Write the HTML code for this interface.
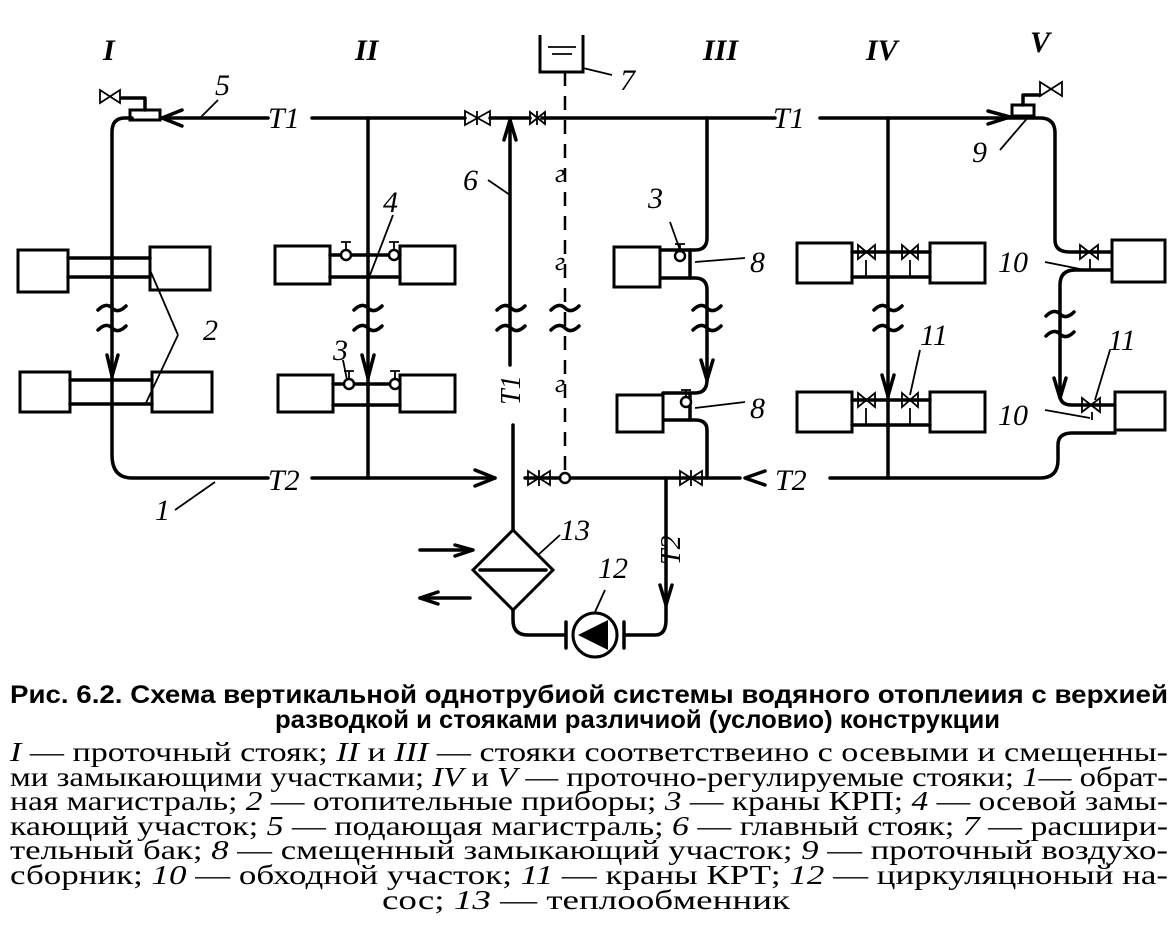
<!DOCTYPE html>
<html><head><meta charset="utf-8"><style>
html,body{margin:0;padding:0;background:#fff}
svg{display:block}
.p{fill:none;stroke:#000;stroke-width:3.5;stroke-linejoin:round;stroke-linecap:round}
.t{fill:none;stroke:#000;stroke-width:1.8}
.b{fill:#fff;stroke:#000;stroke-width:3}
.l{font-family:"Liberation Serif",serif;font-style:italic;font-size:30px}
.cap{font-family:"Liberation Sans","Noto Sans CJK SC",sans-serif;font-size:25px;font-weight:bold}
.txt{font-family:"Liberation Serif","Noto Serif CJK SC",serif;font-size:27px}
</style></head><body>
<svg width="1173" height="933" viewBox="0 0 1173 933" xmlns="http://www.w3.org/2000/svg">
<g class="l" font-size="34" font-weight="bold">
<text x="103" y="60">I</text><text x="355" y="60">II</text><text x="703" y="60">III</text><text x="866" y="60">IV</text><text x="1030" y="52">V</text>
</g>
<path class="p" d="M160 118 H268 M312 118 H465 M490 118 H530 M542 118 H775 M820 118 H1040 Q1055 118 1055 133 V240 Q1055 252 1070 252 H1112"/>
<path class="p" d="M182 110 L162 118 L182 126"/>
<path class="p" d="M988 111 L1010 117 L988 124"/>
<rect class="b" x="130" y="110" width="30" height="10"/>
<path class="p" d="M145 110 V98 H122"/>
<path class="t" stroke-width="2.5" d="M100 90 L120 103 V90 L100 103 Z"/>
<path class="p" d="M132 118 H125 Q112 118 112 132 V455 Q112 478 132 478 H268 M312 478 H495"/>
<path class="p" d="M107 355 L112 376 L118 355"/>
<path class="p" d="M475 470 L495 478 L475 486"/>
<rect class="b" x="18" y="250" width="50" height="42"/><rect class="b" x="150" y="247" width="60" height="43"/>
<path class="p" d="M68 258 H150 M68 277 H150"/>
<rect class="b" x="20" y="372" width="50" height="40"/><rect class="b" x="152" y="372" width="60" height="40"/>
<path class="p" d="M70 380 H152 M70 404 H152"/>
<path class="p" d="M368 118 V478"/>
<path class="p" d="M362 355 L368 378 L374 355"/>
<rect class="b" x="275" y="246" width="55" height="38"/><rect class="b" x="400" y="246" width="55" height="38"/>
<path class="p" d="M330 255 H400 M330 277 H400"/>
<rect class="b" x="278" y="375" width="55" height="37"/><rect class="b" x="400" y="375" width="55" height="37"/>
<path class="p" d="M333 384 H400 M333 405 H400"/>
<g fill="#fff" stroke="#000" stroke-width="2.5">
<circle cx="346" cy="255" r="5"/><circle cx="394" cy="255" r="5"/><circle cx="349" cy="384" r="5"/><circle cx="395" cy="384" r="5"/>
</g>
<path class="t" stroke-width="2.5" d="M346 250 V242 M341 242 H351 M394 250 V242 M389 242 H399 M349 379 V371 M344 371 H354 M395 379 V371 M390 371 H400"/>
<path class="t" stroke-width="2.5" d="M465 111 L490 125 V111 L465 125 Z M477 111 V125"/>
<path class="t" stroke-width="2.5" d="M530 112 L545 124 V112 L530 124 Z M537 111 V125"/>
<path class="p" d="M510 118 V365 M513 425 V620 Q513 635 528 635 H565"/>
<path class="p" d="M504 140 L510 120 L516 140"/>
<path class="b" d="M540 35 V72 H583 V35"/>
<path class="t" stroke-width="2" d="M548 47 H576 M552 54 H572"/>
<path stroke="#000" stroke-width="2.5" stroke-dasharray="14,10" d="M565 72 V473"/>
<path class="t" d="M583 68 L612 75"/>
<path class="b" fill="none" d="M513 530 L553 570 L513 610 L473 570 Z"/>
<path class="p" stroke-width="2.5" d="M480 570 H546 M420 550 H470 M470 598 H420"/>
<path class="p" stroke-width="2" d="M455 545 L473 550 L455 556 M438 592 L420 598 L438 604"/>
<circle cx="595" cy="635" r="22" fill="#fff" stroke="#000" stroke-width="3"/>
<path d="M578 635 L608 620 L608 650 Z" fill="#000"/>
<path class="p" d="M566 622 V648 M624 622 V648 M624 635 H655 Q666 635 666 620 V478"/>
<path class="p" d="M660 585 L666 605 L672 585"/>
<path class="p" d="M525 478 H560 M570 478 H740 M830 478 H1040 Q1058 478 1058 460 V445 Q1058 433 1072 433 H1115"/>
<circle cx="565" cy="478" r="5" fill="#fff" stroke="#000" stroke-width="2.5"/>
<path class="t" stroke-width="2.5" d="M528 471 L550 485 V471 L528 485 Z M539 470 V486"/>
<path class="t" stroke-width="2.5" d="M680 471 L702 485 V471 L680 485 Z M691 470 V486"/>
<path class="p" d="M765 471 L745 478 L765 485"/>
<path class="p" d="M707 118 V238 Q707 250 695 250 H660 M660 278 H695 Q707 278 707 290 V380 Q707 393 695 393 H663 M663 420 H695 Q707 420 707 430 V478"/>
<path class="p" d="M701 360 L707 380 L713 360"/>
<rect class="b" x="614" y="247" width="46" height="40"/>
<rect class="b" x="617" y="395" width="46" height="37"/>
<path class="p" d="M690 250 V278 M690 393 V420"/>
<circle cx="680" cy="256" r="5" fill="#fff" stroke="#000" stroke-width="2.5"/>
<circle cx="686" cy="402" r="5" fill="#fff" stroke="#000" stroke-width="2.5"/>
<path class="t" stroke-width="2.5" d="M680 251 V244 M675 244 H685 M686 397 V390 M681 390 H691"/>
<path class="p" d="M888 118 V478"/>
<path class="p" d="M882 375 L888 396 L894 375"/>
<rect class="b" x="797" y="243" width="55" height="40"/><rect class="b" x="930" y="243" width="55" height="40"/>
<rect class="b" x="797" y="392" width="55" height="40"/><rect class="b" x="930" y="392" width="55" height="40"/>
<path class="p" d="M852 252 H930 M852 277 H930 M852 400 H930 M852 425 H930"/>
<g class="t" stroke-width="2.5">
<path d="M858 245 L875 259 V245 L858 259 Z M902 245 L918 259 V245 L902 259 Z M858 393 L875 407 V393 L858 407 Z M902 393 L918 407 V393 L902 407 Z"/>
<path d="M866 260 V277 M910 260 V277 M866 408 V425 M910 408 V425"/>
</g>
<!-- riser V -->
<path class="p" d="M1112 270 H1075 Q1060 270 1060 285 V395 Q1060 405 1072 405 H1115"/>
<path class="p" d="M1054 378 L1060 398 L1066 378"/>
<rect class="b" x="1112" y="240" width="53" height="42"/><rect class="b" x="1115" y="392" width="50" height="38"/>
<g class="t" stroke-width="2.5">
<path d="M1080 245 L1098 259 V245 L1080 259 Z M1082 398 L1100 412 V398 L1082 412 Z M1090 259 V270 M1092 412 V420"/>
</g>
<rect class="b" x="1012" y="105" width="22" height="11"/>
<path class="p" d="M1023 105 V95 H1040"/>
<path class="t" stroke-width="2.5" d="M1040 82 L1062 96 V82 L1040 96 Z"/>
<g class="p" stroke-width="3">
<path d="M98 310 Q106 302 112 308 Q118 314 126 306 M98 330 Q106 322 112 328 Q118 334 126 326"/>
<path d="M354 310 Q362 302 368 308 Q374 314 382 306 M354 330 Q362 322 368 328 Q374 334 382 326"/>
<path d="M497 310 Q505 302 511 308 Q517 314 525 306 M497 330 Q505 322 511 328 Q517 334 525 326"/>
<path d="M551 310 Q559 302 565 308 Q571 314 579 306 M551 330 Q559 322 565 328 Q571 334 579 326"/>
<path d="M693 310 Q701 302 707 308 Q713 314 721 306 M693 330 Q701 322 707 328 Q713 334 721 326"/>
<path d="M874 310 Q882 302 888 308 Q894 314 902 306 M874 330 Q882 322 888 328 Q894 334 902 326"/>
<path d="M1046 316 Q1054 308 1060 314 Q1066 320 1074 312 M1046 336 Q1054 328 1060 334 Q1066 340 1074 332"/>
</g>
<g class="t">
<path d="M200 118 L218 100 M150 270 L178 335 M145 405 L178 335 M370 275 L393 215 M343 360 L347 380"/>
<path d="M488 180 L510 195 M670 222 L680 250 M695 262 L745 258 M695 408 L745 402"/>
<path d="M1030 115 L1000 150 M1045 262 L1085 270 M1045 410 L1090 418 M920 350 L910 395 M1110 350 L1095 400 M215 482 L175 510"/>
<path d="M538 555 L560 535 M595 612 L605 590"/>
</g>
<g class="l" font-size="30">
<text x="215" y="95">5</text><text x="268" y="128">T1</text><text x="773" y="128">T1</text>
<text x="203" y="340">2</text><text x="383" y="212">4</text><text x="333" y="360">3</text>
<text x="463" y="190">6</text><text x="620" y="90">7</text><text x="648" y="208">3</text>
<text x="750" y="272">8</text><text x="750" y="418">8</text><text x="972" y="162">9</text>
<text x="998" y="272">10</text><text x="998" y="425">10</text><text x="920" y="345">11</text><text x="1108" y="350">11</text>
<text x="268" y="490">T2</text><text x="775" y="490">T2</text><text x="155" y="520">1</text>
<text x="560" y="540">13</text><text x="598" y="578">12</text>
<text x="555" y="182" font-size="26">г</text><text x="555" y="270" font-size="26">г</text><text x="555" y="392" font-size="26">г</text>
<text transform="translate(520,405) rotate(-90)" font-size="28">T1</text>
<text transform="translate(680,565) rotate(-90)" font-size="28">T2</text>
</g>
<text class="cap" x="10" y="703" textLength="1158" lengthAdjust="spacingAndGlyphs">Рис. 6.2. Схема вертикальной однотрубиой системы водяного отоплеиия с верхией</text>
<text class="cap" x="275" y="728" textLength="725" lengthAdjust="spacingAndGlyphs">разводкой и стояками различиой (условио) конструкции</text>
<g class="txt">
<text x="10" y="761" textLength="1158" lengthAdjust="spacingAndGlyphs"><tspan font-style="italic">I</tspan> — проточный стояк; <tspan font-style="italic">II</tspan> и <tspan font-style="italic">III</tspan> — стояки соответствеино с осевыми и смещенны-</text>
<text x="10" y="786" textLength="1158" lengthAdjust="spacingAndGlyphs">ми замыкающими участками; <tspan font-style="italic">IV</tspan> и <tspan font-style="italic">V</tspan> — проточно-регулируемые стояки; <tspan font-style="italic">1</tspan>— обрат-</text>
<text x="10" y="810" textLength="1158" lengthAdjust="spacingAndGlyphs">ная магистраль; <tspan font-style="italic">2</tspan> — отопительные приборы; <tspan font-style="italic">3</tspan> — краны КРП; <tspan font-style="italic">4</tspan> — осевой замы-</text>
<text x="10" y="835" textLength="1158" lengthAdjust="spacingAndGlyphs">кающий участок; <tspan font-style="italic">5</tspan> — подающая магистраль; <tspan font-style="italic">6</tspan> — главный стояк; <tspan font-style="italic">7</tspan> — расшири-</text>
<text x="10" y="859" textLength="1158" lengthAdjust="spacingAndGlyphs">тельный бак; <tspan font-style="italic">8</tspan> — смещенный замыкающий участок; <tspan font-style="italic">9</tspan> — проточный воздухо-</text>
<text x="10" y="884" textLength="1158" lengthAdjust="spacingAndGlyphs">сборник; <tspan font-style="italic">10</tspan> — обходной участок; <tspan font-style="italic">11</tspan> — краны КРТ; <tspan font-style="italic">12</tspan> — циркуляцноный на-</text>
<text x="382" y="909" textLength="408" lengthAdjust="spacingAndGlyphs">сос; <tspan font-style="italic">13</tspan> — теплообменник</text>
</g>
</svg>
</body></html>
